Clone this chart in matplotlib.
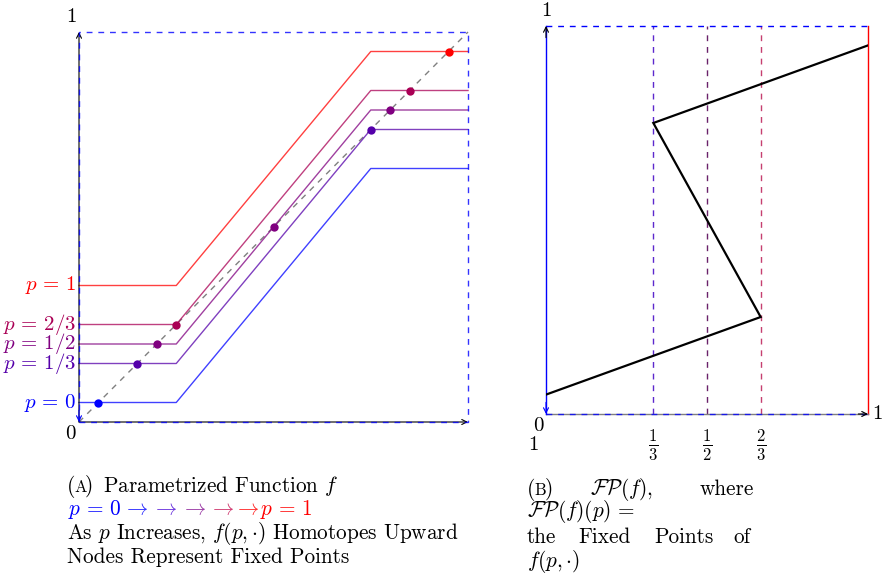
import matplotlib
matplotlib.use("Agg")
import matplotlib.pyplot as plt

plt.rcParams['mathtext.fontset'] = 'cm'
plt.rcParams['font.family'] = ['cmr10', 'DejaVu Serif']
plt.rcParams['axes.unicode_minus'] = False

# ---------------- data ----------------
p_values = [0, 1/3, 1/2, 2/3, 1]
p_labels = [r'$p\,=\,0$', r'$p\,=\,1/3$', r'$p\,=\,1/2$', r'$p\,=\,2/3$', r'$p\,=\,1$']
p_colors = ['#0000ff', '#5500aa', '#800080', '#aa0055', '#ff0000']
base_levels = [0.05, 0.15, 0.20, 0.25, 0.35]
knot_x = [0.0, 0.25, 0.75, 1.0]
rise = 0.6

fixed_x = [0.05, 0.15, 0.75, 0.20, 0.50, 0.80, 0.25, 0.85, 0.95]
fixed_curve = [0, 1, 1, 2, 2, 2, 3, 3, 4]

fp_p = [0, 2/3, 1/3, 1]
fp_v = [0.05, 0.25, 0.75, 0.95]
vline_p = [1/3, 1/2, 2/3]
vline_labels = [r'$\frac{1}{3}$', r'$\frac{1}{2}$', r'$\frac{2}{3}$']
vline_colors = ['#4a10c8', '#5a0a5a', '#c02a60']

W, H = 885, 578
fig = plt.figure(figsize=(W / 100, H / 100), dpi=100)

def px_axes(x0, y0, x1, y1):
    return fig.add_axes([x0 / W, 1 - y1 / H, (x1 - x0) / W, (y1 - y0) / H])

dash = (0, (4.2, 4.2))

# ---------------- panel A ----------------
ax = px_axes(79, 32, 468, 422)
ax.set_xlim(0, 1)
ax.set_ylim(0, 1)
ax.axis('off')

for b, c in zip(base_levels, p_colors):
    ys = [b, b, b + rise, b + rise]
    ax.plot(knot_x, ys, color=c, lw=1.0, alpha=0.75, clip_on=False, zorder=3)

ax.plot([0, 1], [0, 1], color='gray', lw=1.0, ls=dash, zorder=2, clip_on=False)

ax.annotate('', xy=(0, 1), xytext=(0, 0),
            arrowprops=dict(arrowstyle='->', color='black', lw=0.8,
                            shrinkA=0, shrinkB=0, mutation_scale=9), zorder=4)
ax.annotate('', xy=(1, 0), xytext=(0, 0),
            arrowprops=dict(arrowstyle='->', color='black', lw=0.8,
                            shrinkA=0, shrinkB=0, mutation_scale=9), zorder=4)
ax.annotate('', xy=(0, 0), xytext=(0, 0.03),
            arrowprops=dict(arrowstyle='->', color='blue', lw=0.8,
                            shrinkA=0, shrinkB=0, mutation_scale=9), zorder=5)
ax.plot([0, 1, 1, 0, 0], [0, 0, 1, 1, 0], color='blue', lw=1.0, ls=dash,
        clip_on=False, zorder=5, alpha=0.8)

for xf, ci in zip(fixed_x, fixed_curve):
    ax.plot([xf], [xf], 'o', color=p_colors[ci], ms=6, mec='none',
            clip_on=False, zorder=6)

for b, lab, c in zip(base_levels, p_labels, p_colors):
    ax.text(-0.007, b, lab, color=c, fontsize=15, ha='right', va='center')

ax.text(-0.02, 1.015, '1', fontsize=15, ha='center', va='bottom')
ax.text(-0.022, -0.008, '0', fontsize=15, ha='center', va='top')

# ---------------- panel B ----------------
bx = px_axes(546, 26, 868, 414)
bx.set_xlim(0, 1)
bx.set_ylim(0, 1)
bx.axis('off')

for xv, c in zip(vline_p, vline_colors):
    bx.plot([xv, xv], [0, 1], color=c, lw=1.0, ls=dash, alpha=0.9, zorder=2)
bx.plot([1, 1], [0, 1], color='red', lw=1.0, zorder=2, clip_on=False)
bx.plot([0, 1], [1, 1], color='blue', lw=1.0, ls=dash, zorder=2, clip_on=False)
bx.plot([0, 1], [0, 0], color='gray', lw=1.0, zorder=3, clip_on=False)
bx.plot([0, 1], [0, 0], color='blue', lw=1.0, ls=dash, zorder=4, clip_on=False, alpha=0.8)
bx.plot([0, 0], [0, 1], color='blue', lw=1.0, zorder=3, clip_on=False)
bx.annotate('', xy=(0, 1), xytext=(0, 0.97),
            arrowprops=dict(arrowstyle='->', color='black', lw=0.8,
                            shrinkA=0, shrinkB=0, mutation_scale=9), zorder=5)
bx.annotate('', xy=(1, 0), xytext=(0.97, 0),
            arrowprops=dict(arrowstyle='->', color='black', lw=0.8,
                            shrinkA=0, shrinkB=0, mutation_scale=9), zorder=5)
bx.annotate('', xy=(0, 0), xytext=(0, 0.03),
            arrowprops=dict(arrowstyle='->', color='blue', lw=0.8,
                            shrinkA=0, shrinkB=0, mutation_scale=9), zorder=5)

bx.plot(fp_p, fp_v, color='black', lw=1.6, zorder=6, solid_joinstyle='miter')

for xv, lab in zip(vline_p, vline_labels):
    bx.text(xv, -0.035, lab, fontsize=17, ha='center', va='top')

bx.text(0.0, 1.015, '1', fontsize=15, ha='center', va='bottom')
bx.text(-0.025, -0.008, '0', fontsize=15, ha='center', va='top')
bx.text(-0.04, -0.058, '1', fontsize=15, ha='center', va='top')
bx.text(1.012, 0.0, '1', fontsize=15, ha='left', va='center')

# ---------------- captions ----------------
def ftext(x, y, s, **kw):
    fig.text(x / W, 1 - y / H, s, ha='left', va='baseline', **kw)

CS = 15.3
SC = CS * 0.78
# caption A
ftext(67, 492, '(', fontsize=CS)
ftext(74, 492, 'A', fontsize=SC)
ftext(85, 492, ')', fontsize=CS)
ftext(103, 492, r'Parametrized Function $f$', fontsize=CS)

ftext(68, 515, r'$p\,=\,0$', fontsize=CS, color='#0000ff')
arrow_x = [123, 152, 181, 209, 234]
arrow_c = ['#2a2aff', '#6a33dd', '#9a3aa5', '#d03a70', '#ff2a2a']
for xa, ca in zip(arrow_x, arrow_c):
    ftext(xa, 515, r'$\rightarrow$', fontsize=CS, color=ca)
ftext(260, 515, r'$p\,=\,1$', fontsize=CS, color='#ff0000')

ftext(67, 539, r'As $p$ Increases, $f(p,{\cdot})$ Homotopes Upward', fontsize=CS)
ftext(67, 563, r'Nodes Represent Fixed Points', fontsize=CS)

# caption B
ftext(527, 495, '(', fontsize=CS)
ftext(534, 495, 'B', fontsize=SC)
ftext(545, 495, ')', fontsize=CS)
ftext(590, 495, r'$\mathcal{FP}(f),$', fontsize=CS)
ftext(700, 495, 'where', fontsize=CS)
ftext(527, 517, r'$\mathcal{FP}(f)(p)\,=$', fontsize=CS)
line3 = [('the', 527), ('Fixed', 578), ('Points', 654), ('of', 733)]
for w, xw in line3:
    ftext(xw, 543, w, fontsize=CS)
ftext(527, 567, r'$f(p,{\cdot})$', fontsize=CS)

fig.savefig('out.png', dpi=100)
